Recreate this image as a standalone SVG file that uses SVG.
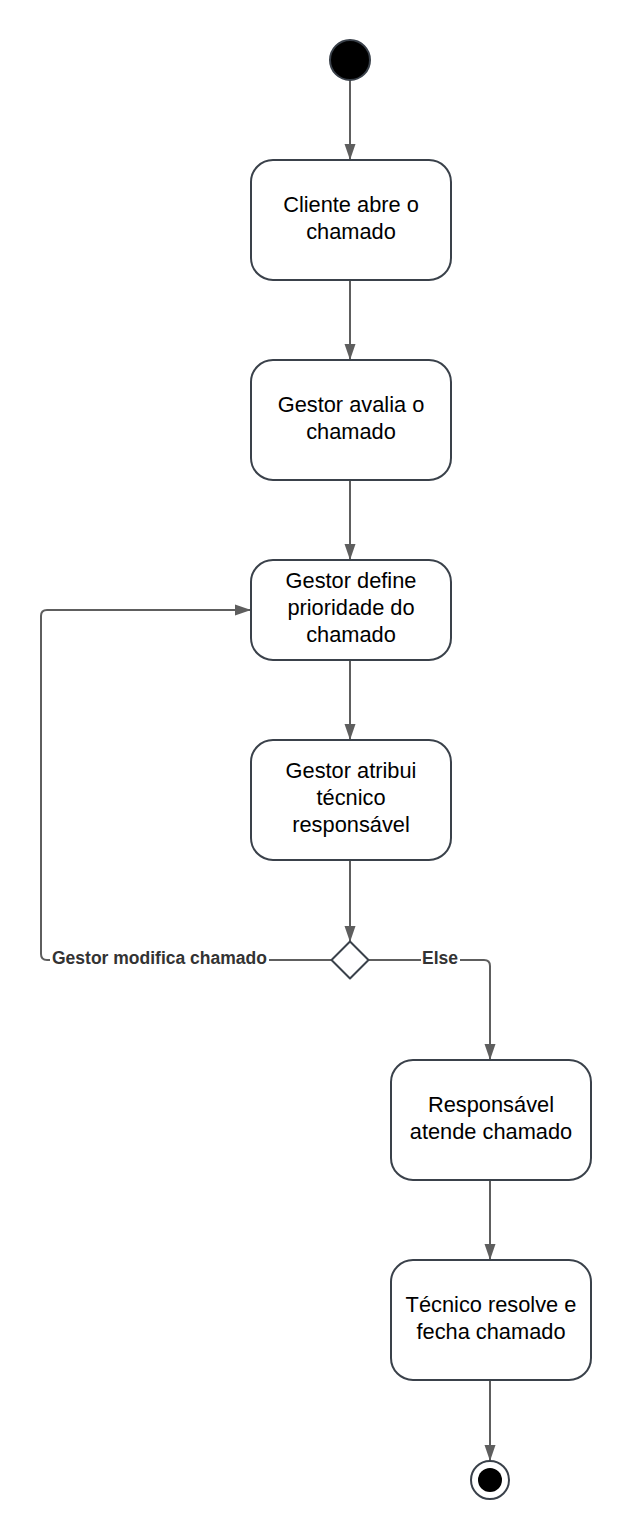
<svg xmlns="http://www.w3.org/2000/svg" width="631" height="1540" viewBox="0 0 631 1540">
<defs>
<style>
.box{fill:#fff;stroke:#3a414a;stroke-width:2}
.t{font-family:"Liberation Sans",Arial,sans-serif;font-size:21.8px;fill:#000;text-anchor:middle}
.lbl{font-family:"Liberation Sans",Arial,sans-serif;font-size:17.5px;font-weight:bold;fill:#333}
.c{fill:none;stroke:#5e5e5e;stroke-width:2}
</style>
<marker id="ah" markerWidth="16" markerHeight="12" refX="15" refY="6" orient="auto" markerUnits="userSpaceOnUse">
<path d="M0,0.5 L16,6 L0,11.5 Z" fill="#5e5e5e"/>
</marker>
</defs>
<rect width="631" height="1540" fill="#fff"/>
<g id="connectors">
<path class="c" d="M350,80 V159" marker-end="url(#ah)"/>
<path class="c" d="M350,281 V359" marker-end="url(#ah)"/>
<path class="c" d="M350,481 V559" marker-end="url(#ah)"/>
<path class="c" d="M350,661 V739" marker-end="url(#ah)"/>
<path class="c" d="M350,861 V941" marker-end="url(#ah)"/>
<path class="c" d="M332,960 H47 Q41,960 41,954 V616 Q41,610 47,610 H250" marker-end="url(#ah)"/>
<path class="c" d="M368,960 H484 Q490,960 490,966 V1059" marker-end="url(#ah)"/>
<path class="c" d="M490,1181 V1259" marker-end="url(#ah)"/>
<path class="c" d="M490,1381 V1460" marker-end="url(#ah)"/>
<rect x="50" y="948" width="219" height="22" fill="#fff"/>
<text class="lbl" x="52" y="964">Gestor modifica chamado</text>
<rect x="421" y="948" width="39" height="22" fill="#fff"/>
<text class="lbl" x="422" y="964">Else</text>
</g>
<g id="start"><circle cx="350" cy="60" r="20" fill="#000" stroke="#3a414a" stroke-width="2"/></g>
<g id="n1"><rect class="box" x="251" y="160" width="200" height="120" rx="22"/>
<text class="t" x="351" y="212">Cliente abre o</text><text class="t" x="351" y="239">chamado</text></g>
<g id="n2"><rect class="box" x="251" y="360" width="200" height="120" rx="22"/>
<text class="t" x="351" y="412">Gestor avalia o</text><text class="t" x="351" y="439">chamado</text></g>
<g id="n3"><rect class="box" x="251" y="560" width="200" height="100" rx="22"/>
<text class="t" x="351" y="588">Gestor define</text><text class="t" x="351" y="615">prioridade do</text><text class="t" x="351" y="642">chamado</text></g>
<g id="n4"><rect class="box" x="251" y="740" width="200" height="120" rx="22"/>
<text class="t" x="351" y="778">Gestor atribui</text><text class="t" x="351" y="805">técnico</text><text class="t" x="351" y="832">responsável</text></g>
<g id="decision"><path d="M350,941.5 L368.5,960 L350,978.5 L331.5,960 Z" fill="#fff" stroke="#3a414a" stroke-width="2" stroke-linejoin="round"/></g>
<g id="n5"><rect class="box" x="391" y="1060" width="200" height="120" rx="22"/>
<text class="t" x="491" y="1112">Responsável</text><text class="t" x="491" y="1139">atende chamado</text></g>
<g id="n6"><rect class="box" x="391" y="1260" width="200" height="120" rx="22"/>
<text class="t" x="491" y="1312">Técnico resolve e</text><text class="t" x="491" y="1339">fecha chamado</text></g>
<g id="end"><circle cx="490" cy="1480" r="19" fill="#fff" stroke="#3a414a" stroke-width="2"/><circle cx="490" cy="1480" r="12" fill="#000"/></g>
</svg>
